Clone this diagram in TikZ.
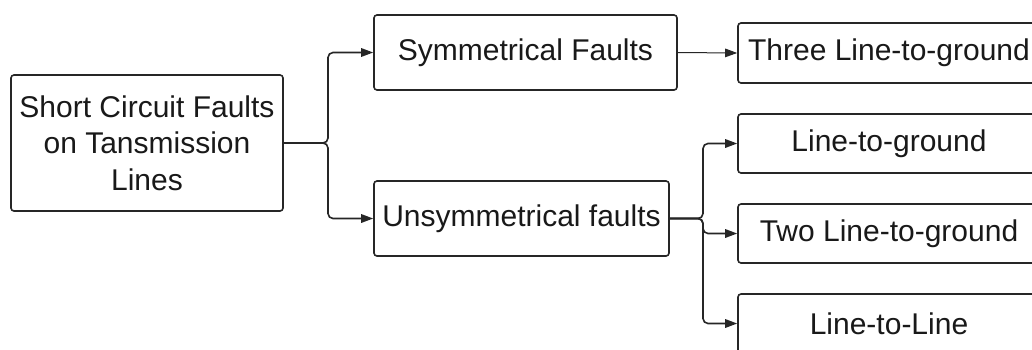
\documentclass[tikz,border=0pt]{standalone}
\usepackage{fontspec}
\setmainfont{Liberation Sans}
\usetikzlibrary{arrows.meta}
\begin{document}
\begin{tikzpicture}[x=1pt,y=-1pt,
  box/.style={draw=black!85,line width=1.6pt,rounded corners=3pt,inner sep=0pt,
    align=center,font=\fontsize{30}{36.5}\selectfont,text=black!90},
  conn/.style={draw=black!85,line width=1.6pt,rounded corners=5pt,
    -{Triangle[length=12pt,width=8.5pt]}},
  thinconn/.style={draw=black!85,line width=1pt,
    -{Triangle[length=12pt,width=8.5pt]}}]
\clip (0,0) rectangle (1032,349);
\fill[white] (0,0) rectangle (1032,349);

% first level
\node[box,minimum width=272pt,minimum height=136pt] (root) at (147,143)
  {Short Circuit Faults\\on Tansmission\\Lines};
\node[box,minimum width=303pt,minimum height=75pt] (sym) at (525.5,52.5) {Symmetrical Faults};
\node[box,minimum width=295pt,minimum height=75pt] (uns) at (521.5,218.5) {Unsymmetrical faults};

% second level
\node[box,minimum width=302pt,minimum height=60pt] (three) at (889,53) {Three Line-to-ground};
\node[box,minimum width=302pt,minimum height=59pt] (lg) at (889,143.5) {Line-to-ground};
\node[box,minimum width=302pt,minimum height=59pt] (tlg) at (889,233.5) {Two Line-to-ground};
\node[box,minimum width=302pt,minimum height=59pt] (ll) at (889,323.5) {Line-to-Line};

% branch points
\coordinate (j1) at (328,143);
\coordinate (j2) at (703,218.5);

% connectors
\draw[conn] (root.east) -- (j1) |- (sym.west);
\draw[conn] (root.east) -- (j1) |- (uns.west);
\draw[thinconn] (sym.east) -- (three.west);
\draw[conn] (uns.east) -- (j2) |- (lg.west);
\draw[conn] (uns.east) -- (j2) |- (tlg.west);
\draw[conn] (uns.east) -- (j2) |- (ll.west);
\end{tikzpicture}
\end{document}
